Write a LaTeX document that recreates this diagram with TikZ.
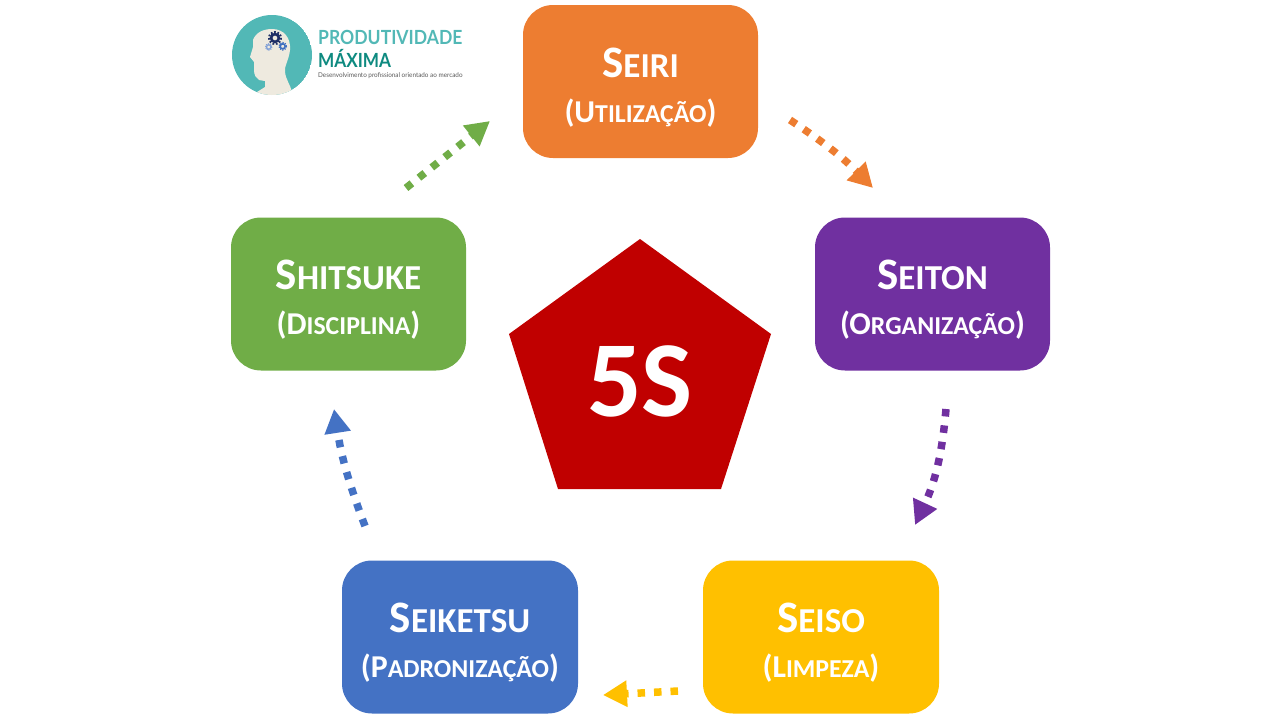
\documentclass[tikz,border=0pt]{standalone}
\usepackage{graphicx}
\usepackage{fontspec}
\setmainfont{Carlito}
\newfontfamily\logofont{Lato}
\usetikzlibrary{arrows.meta}
\definecolor{cOrange}{HTML}{ED7D31}
\definecolor{cPurple}{HTML}{7030A0}
\definecolor{cYellow}{HTML}{FFC000}
\definecolor{cBlue}{HTML}{4472C4}
\definecolor{cGreen}{HTML}{70AD47}
\definecolor{cRed}{HTML}{C00000}
\definecolor{logoTeal}{HTML}{52B8B6}
\definecolor{logoDark}{HTML}{0E8A80}
\definecolor{logoSkin}{HTML}{EEEADF}
\definecolor{logoNavy}{HTML}{1F2F66}
\definecolor{logoGear}{HTML}{3F6FC0}
\newcommand{\bigname}[2]{\rule{0pt}{41pt}{\fontsize{45}{45}\selectfont #1\fontsize{35}{35}\selectfont #2}}
\newcommand{\subname}[2]{{\fontsize{31.8}{31.8}\selectfont (#1\fontsize{25.8}{25.8}\selectfont #2\fontsize{31.8}{31.8}\selectfont )}}
\tikzset{
  stage/.style={rounded corners=30pt,minimum width=235pt,minimum height=153pt,inner sep=0pt,
    text=white,font=\bfseries,align=center},
  flow/.style={line width=7.5pt,dash pattern=on 7.5pt off 9pt,
    -{Triangle[length=24pt,width=25pt]}},
}
\begin{document}
\begin{tikzpicture}[x=1pt,y=-1pt]
\useasboundingbox (0,0) rectangle (1280,720);
\node[stage,fill=cOrange] (seiri) at (640.5,81.5) {\bigname{S}{EIRI}\\[20pt]\subname{U}{TILIZAÇÃO}};
\node[stage,fill=cPurple] (seiton) at (932.5,294) {\bigname{S}{EITON}\\[20pt]\subname{O}{RGANIZAÇÃO}};
\node[stage,fill=cYellow,minimum width=236pt] (seiso) at (821,637) {\bigname{S}{EISO}\\[20pt]\subname{L}{IMPEZA}};
\node[stage,fill=cBlue,minimum width=236pt] (seiketsu) at (460,637) {\bigname{S}{EIKETSU}\\[20pt]\subname{P}{ADRONIZAÇÃO}};
\node[stage,fill=cGreen] (shitsuke) at (348.5,294) {\bigname{S}{HITSUKE}\\[20pt]\subname{D}{ISCIPLINA}};
\fill[cRed] (640,239) -- (771,334) -- (721,489) -- (558,489) -- (509,334) -- cycle;
\node[text=white,font=\bfseries,inner sep=0pt] (five) at (640,381) {\fontsize{108}{108}\selectfont 5S};
\coordinate (oa) at (790,120); \coordinate (ob) at (873,188);
\coordinate (pa) at (946,409); \coordinate (pb) at (915,525);
\coordinate (ya) at (678,691); \coordinate (yb) at (603,695);
\coordinate (ba) at (365,526); \coordinate (bb) at (334,409);
\coordinate (ga) at (406,188); \coordinate (gb) at (490,121);
\draw[flow,cOrange] (oa) to[bend left=6] (ob);
\draw[flow,cPurple] (pa) to[bend left=10] (pb);
\draw[flow,cYellow] (ya) to (yb);
\draw[flow,cBlue] (ba) to[bend left=6] (bb);
\draw[flow,cGreen] (ga) to (gb);
% logo
\begin{scope}
\clip (272,55) circle (40);
\fill[logoTeal] (272,55) circle (40);
\fill[logoSkin] (250,100) -- (257,92) -- (265,87) -- (265,81) -- (259,80)
  .. controls (256,78) and (254,75) .. (254,70)
  -- (254,62) -- (250,57) -- (253,47) -- (253,40)
  .. controls (256,32) and (264,29) .. (272,29)
  .. controls (284,29) and (291,38) .. (290,50)
  .. controls (289,60) and (284,66) .. (285,72)
  .. controls (286,80) and (290,84) .. (292,92) -- (296,100) -- cycle;
\end{scope}
\draw[logoNavy,line width=2.6pt] (275,38) circle (3.9);
\draw[logoNavy,line width=2pt,dash pattern=on 1.7pt off 1.7pt] (275,38) circle (6);
\draw[logoGear,line width=1.6pt] (282.7,46.3) circle (2.5);
\draw[logoGear,line width=1.3pt,dash pattern=on 1.2pt off 1.2pt] (282.7,46.3) circle (3.7);
\draw[logoGear!65,line width=1.3pt] (268.7,47) circle (2.2);
\draw[logoGear!65,line width=1.1pt,dash pattern=on 1pt off 1pt] (268.7,47) circle (3.2);
\node[anchor=base west,inner sep=0pt,text=logoTeal,font=\logofont\bfseries] (brand) at (318,44.5) {\scalebox{0.9}[1]{\fontsize{19.5}{20}\selectfont PRODUTIVIDADE}};
\node[anchor=base west,inner sep=0pt,text=logoDark,font=\logofont\bfseries] (brandb) at (318,67) {\scalebox{0.88}[1]{\fontsize{19.5}{20}\selectfont MÁXIMA}};
\node[anchor=base west,inner sep=0pt,text=black!65,font=\logofont] (tag) at (318,77) {\scalebox{0.96}[1]{\fontsize{6.6}{7}\selectfont Desenvolvimento profissional orientado ao mercado}};
\end{tikzpicture}
\end{document}
